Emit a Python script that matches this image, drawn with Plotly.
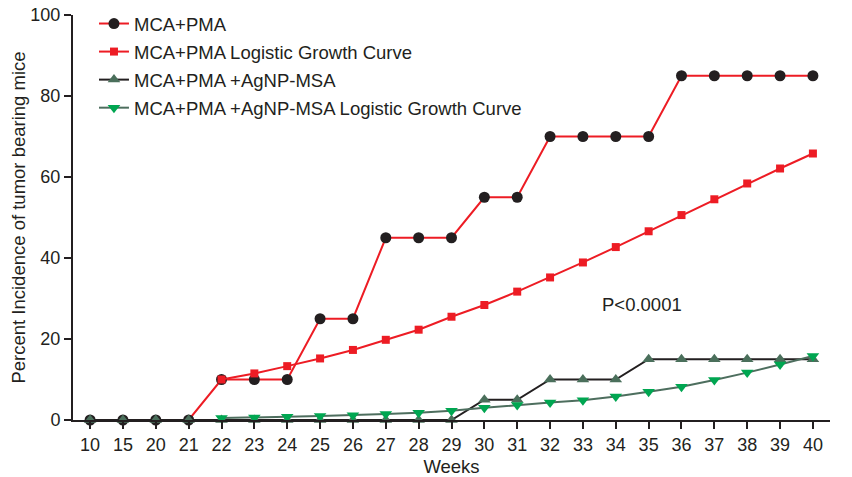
import plotly.graph_objects as go

# Weeks after treatment start (categorical axis)
weeks = ["10", "15", "20", "21", "22", "23", "24", "25", "26", "27", "28", "29",
         "30", "31", "32", "33", "34", "35", "36", "37", "38", "39", "40"]
fit_weeks = weeks[4:]

# Observed incidence (%)
mca_pma = [0, 0, 0, 0, 10, 10, 10, 25, 25, 45, 45, 45,
           55, 55, 70, 70, 70, 70, 85, 85, 85, 85, 85]
mca_pma_agnp = [0, 0, 0, 0, 0, 0, 0, 0, 0, 0, 0, 0,
                5, 5, 10, 10, 10, 15, 15, 15, 15, 15, 15]

# Logistic growth fits (%), weeks 22-40
mca_pma_fit = [10.0, 11.5, 13.3, 15.2, 17.3, 19.8, 22.3, 25.5, 28.4, 31.7,
               35.2, 38.9, 42.7, 46.6, 50.6, 54.5, 58.4, 62.1, 65.8]
mca_pma_agnp_fit = [0.5, 0.6, 0.8, 1.0, 1.2, 1.5, 1.8, 2.3, 3.0, 3.7,
                    4.3, 4.9, 5.8, 7.0, 8.2, 9.9, 11.7, 13.7, 15.8]

y_ticks = [0, 20, 40, 60, 80, 100]

RED = "#ed1c24"
INK = "#231f20"
DARK_GREEN = "#4a6f5b"
GREEN = "#00a651"
GREEN_LINE = "#4d6e5e"
FONT = "Liberation Sans, Arial, sans-serif"

fig = go.Figure()

fig.add_trace(go.Scatter(
    x=weeks, y=mca_pma, name="MCA+PMA", mode="lines+markers",
    line=dict(color=RED, width=2),
    marker=dict(symbol="circle", size=11, color=INK),
    cliponaxis=False, legendgroup="a",
))
fig.add_trace(go.Scatter(
    x=fit_weeks, y=mca_pma_fit, name="MCA+PMA Logistic Growth Curve",
    mode="lines+markers",
    line=dict(color=RED, width=2),
    marker=dict(symbol="square", size=8, color=RED),
    cliponaxis=False, legendgroup="b",
))
fig.add_trace(go.Scatter(
    x=weeks, y=mca_pma_agnp, name="MCA+PMA +AgNP-MSA", mode="lines+markers",
    line=dict(color=INK, width=2),
    marker=dict(symbol="triangle-up", size=11, color=DARK_GREEN),
    cliponaxis=False, legendgroup="c",
))
fig.add_trace(go.Scatter(
    x=fit_weeks, y=mca_pma_agnp_fit,
    name="MCA+PMA +AgNP-MSA Logistic Growth Curve", mode="lines+markers",
    line=dict(color=GREEN_LINE, width=2),
    marker=dict(symbol="triangle-down", size=11, color=GREEN),
    cliponaxis=False, legendgroup="d",
))

fig.add_annotation(
    x=16.8, y=28.6, xref="x", yref="y", text="P<0.0001", showarrow=False,
    font=dict(family=FONT, size=18.5, color=INK),
)

fig.update_layout(
    width=852, height=477,
    margin=dict(l=73, r=22, t=15, b=57, autoexpand=False),
    paper_bgcolor="white", plot_bgcolor="white",
    font=dict(family=FONT, size=18, color=INK),
    showlegend=True,
    legend=dict(
        x=0.0277, y=1.0247, xanchor="left", yanchor="top",
        bgcolor="rgba(0,0,0,0)",
        font=dict(family=FONT, size=18.5, color=INK),
        traceorder="grouped", tracegroupgap=1,
    ),
    xaxis=dict(
        type="category", range=[-0.52, 22.52], automargin=True,
        showline=True, linecolor=INK, linewidth=2,
        ticks="outside", ticklen=7, tickwidth=2, tickcolor=INK,
        showgrid=False, zeroline=False,
        tickfont=dict(family=FONT, size=18, color=INK),
        title=dict(text="Weeks", font=dict(family=FONT, size=18.5, color=INK), standoff=6),
    ),
    yaxis=dict(
        range=[0, 100], tickvals=y_ticks, automargin=True,
        showline=True, linecolor=INK, linewidth=2,
        ticks="outside", ticklen=7, tickwidth=2, tickcolor=INK,
        showgrid=False, zeroline=False,
        tickfont=dict(family=FONT, size=18, color=INK),
        title=dict(text="Percent Incidence of tumor bearing mice",
                   font=dict(family=FONT, size=18.5, color=INK), standoff=0),
    ),
)

fig.write_html("out.html")
